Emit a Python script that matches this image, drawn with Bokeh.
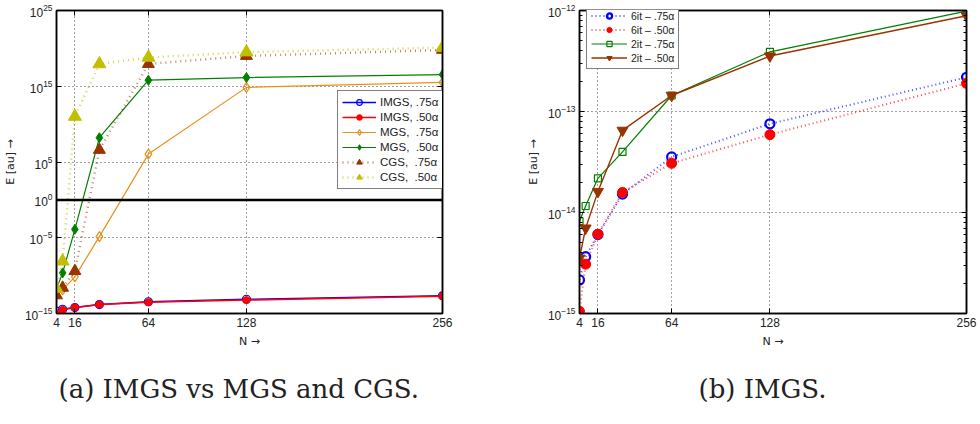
from bokeh.plotting import figure
from bokeh.models import (Range1d, FixedTicker, LogAxis, LinearAxis, Span, Title,
                          LogTickFormatter, CustomJSTickFormatter)
from bokeh.layouts import row
from bokeh.embed import file_html
from bokeh.resources import INLINE

# Problem sizes
N = [4, 8, 16, 32, 64, 128, 256]
x_ticks = [4, 16, 64, 128, 256]

# Orthogonality error E [au] of the different Gram-Schmidt variants
imgs_75 = [2.15e-15, 3.65e-15, 6.05e-15, 1.52e-14, 3.55e-14, 7.55e-14, 2.18e-13]
imgs_50 = [1.05e-15, 3.08e-15, 6.1e-15, 1.58e-14, 3.07e-14, 5.9e-14, 1.9e-13]
mgs_75 = [3.2e-13, 1.3e-12, 6.9e-11, 1.4e-5, 1.1e6, 7.1e14, 3.2e15]
mgs_50 = [1.8e-12, 2.3e-10, 1.3e-4, 1.6e8, 6.3e15, 1.4e16, 3.5e16]
cgs_75 = [2.5e-13, 2.5e-12, 4.0e-10, 4.0e6, 8.7e17, 1.0e19, 6.3e19]
cgs_50 = [2.0e-12, 7.9e-9, 1.0e11, 8.7e17, 6.3e18, 3.2e19, 1.26e20]

# IMGS with 6 vs 2 iterations
it6_75 = imgs_75
it6_50 = imgs_50
it2_75 = [8.2e-15, 1.16e-14, 2.18e-14, 3.98e-14, 1.44e-13, 3.9e-13, 9.85e-13]
it2_50 = [3.52e-15, 7.0e-15, 1.61e-14, 6.5e-14, 1.44e-13, 3.54e-13, 8.87e-13]

left_y_ticks = [1e-15, 1e-5, 1e0, 1e5, 1e15, 1e25]
right_y_ticks = [1e-15, 1e-14, 1e-13, 1e-12]
right_y_minor = [m * 10.0 ** e for e in (-15, -14, -13) for m in range(2, 10)]

SANS = "Liberation Sans"
SERIF = "DejaVu Serif"

BLUE = "#0000ff"
RED = "#ff0000"
ORANGE = "#e8901c"
GREEN = "#008000"
BROWN = "#993300"
YELLOW = "#c0c000"


def make_fig(min_left, min_right, y_range):
    p = figure(width=490, height=424, x_range=Range1d(4, 256), y_range=y_range,
               y_axis_type="log", output_backend="svg", toolbar_location=None,
               min_border_left=min_left, min_border_right=min_right,
               min_border_top=10, min_border_bottom=108)
    p.background_fill_color = "white"
    p.border_fill_color = "white"
    p.outline_line_color = "black"
    p.outline_line_width = 1.5
    return p


def add_caption(p, caption, shift):
    p.add_layout(Title(text=caption, align="left", text_font=SERIF,
                       text_font_size="26px", text_font_style="normal",
                       text_line_height=1.0, text_color="#222222",
                       standoff=42, offset=shift), "below")


def style_axes(p, yticker):
    xticker = FixedTicker(ticks=x_ticks, minor_ticks=[])
    p.xaxis.ticker = xticker
    p.yaxis.ticker = yticker
    p.yaxis.formatter = LogTickFormatter()
    for ax in p.xaxis + p.yaxis:
        ax.axis_line_color = "black"
        ax.axis_line_width = 1.5
        ax.major_tick_in = 5
        ax.major_tick_out = 0
        ax.minor_tick_in = 3
        ax.minor_tick_out = 0
        ax.major_label_text_font = SANS
        ax.major_label_text_font_size = "12px"
        ax.major_label_text_color = "#222222"
        ax.axis_label_text_font = "DejaVu Sans"
        ax.axis_label_text_font_size = "11px"
        ax.axis_label_text_font_style = "normal"
        ax.axis_label_text_color = "#222222"
        ax.major_label_standoff = 4
        ax.axis_label_standoff = 5
    p.xaxis.axis_label = "N \u2192"
    p.yaxis.axis_label = "E [au] \u2192"
    # tick marks on the opposite sides of the box, without labels
    blank = CustomJSTickFormatter(code="return ''")
    right = LogAxis(ticker=yticker, formatter=blank, major_label_standoff=0,
                    major_tick_in=5, major_tick_out=0, minor_tick_in=3,
                    minor_tick_out=0, axis_line_width=1.5)
    top = LinearAxis(ticker=xticker, formatter=blank, major_label_standoff=0,
                     major_tick_in=5, major_tick_out=0, axis_line_width=1.5)
    p.add_layout(right, "right")
    p.add_layout(top, "above")
    for g in (p.xgrid, p.ygrid):
        g.grid_line_color = "#444444"
        g.grid_line_dash = "1 3"
        g.grid_line_width = 1
    p.xgrid.ticker = xticker
    p.ygrid.ticker = yticker


def style_legend(p, loc, font, row_h, glyph_w):
    lg = p.legend[0]
    lg.location = loc
    lg.border_line_color = "black"
    lg.border_line_width = 1.5
    lg.background_fill_alpha = 1
    lg.label_text_font = SANS
    lg.label_text_font_size = font
    lg.label_text_color = "#222222"
    lg.label_height = row_h
    lg.glyph_height = row_h
    lg.glyph_width = glyph_w
    lg.spacing = 1
    lg.padding = 4
    lg.margin = 0
    lg.label_standoff = 4


# ---------------- (a) IMGS vs MGS and CGS ----------------
p1 = make_fig(56, 48, Range1d(1e-15, 1e25))
style_axes(p1, FixedTicker(ticks=left_y_ticks, minor_ticks=[]))
add_caption(p1, "(a) IMGS vs MGS and CGS.", 2)
p1.add_layout(Span(location=1.0, dimension="width", line_color="black", line_width=2.5))

p1.line(N, imgs_75, line_color=BLUE, line_width=1.5, legend_label="IMGS, .75\u03b1")
p1.scatter(N, imgs_75, marker="circle", size=8, fill_color=None, line_color=BLUE,
           line_width=1.2, legend_label="IMGS, .75\u03b1")
p1.line(N, imgs_50, line_color=RED, line_width=1.5, legend_label="IMGS, .50\u03b1")
p1.scatter(N, imgs_50, marker="circle", size=7, fill_color=RED, line_color=RED,
           legend_label="IMGS, .50\u03b1")
p1.line(N, mgs_75, line_color=ORANGE, line_width=1.2, legend_label="MGS,  .75\u03b1")
p1.scatter(N, mgs_75, marker="diamond", size=10, fill_color=None, line_color=ORANGE,
           line_width=1.2, legend_label="MGS,  .75\u03b1")
p1.line(N, mgs_50, line_color=GREEN, line_width=1.2, legend_label="MGS,  .50\u03b1")
p1.scatter(N, mgs_50, marker="diamond", size=10, fill_color=GREEN, line_color=GREEN,
           legend_label="MGS,  .50\u03b1")
p1.line(N, cgs_75, line_color=BROWN, line_width=2.4, line_dash="1 4", line_alpha=0.6,
        legend_label="CGS,  .75\u03b1")
p1.scatter(N, cgs_75, marker="triangle", size=12, fill_color=BROWN, line_color=BROWN,
           legend_label="CGS,  .75\u03b1")
p1.line(N, cgs_50, line_color=YELLOW, line_width=2.4, line_dash="1 4", line_alpha=0.7,
        legend_label="CGS,  .50\u03b1")
p1.scatter(N, cgs_50, marker="triangle", size=13, fill_color=YELLOW, line_color=YELLOW,
           legend_label="CGS,  .50\u03b1")
style_legend(p1, (281, 124), "11.5px", 14, 34)

# ---------------- (b) IMGS ----------------
p2 = make_fig(89, 14, Range1d(1e-15, 1e-12))
style_axes(p2, FixedTicker(ticks=right_y_ticks, minor_ticks=right_y_minor))
add_caption(p2, "(b) IMGS.", 119)

p2.line(N, it6_75, line_color=BLUE, line_width=2, line_dash="1 3", line_alpha=0.7,
        legend_label="6it \u2013 .75\u03b1")
p2.scatter(N, it6_75, marker="circle", size=9, fill_color=None, line_color=BLUE,
           line_width=2.2, legend_label="6it \u2013 .75\u03b1")
p2.line(N, it6_50, line_color=RED, line_width=2, line_dash="1 3", line_alpha=0.7,
        legend_label="6it \u2013 .50\u03b1")
p2.scatter(N, it6_50, marker="circle", size=10, fill_color=RED, line_color=RED,
           legend_label="6it \u2013 .50\u03b1")
p2.line(N, it2_75, line_color=GREEN, line_width=1.2, legend_label="2it \u2013 .75\u03b1")
p2.scatter(N, it2_75, marker="square", size=7, fill_color=None, line_color=GREEN,
           line_width=1.2, legend_label="2it \u2013 .75\u03b1")
p2.line(N, it2_50, line_color=BROWN, line_width=1.4, legend_label="2it \u2013 .50\u03b1")
p2.scatter(N, it2_50, marker="inverted_triangle", size=11, fill_color=BROWN,
           line_color=BROWN, legend_label="2it \u2013 .50\u03b1")
style_legend(p2, (7, 244), "10.5px", 13, 36)

layout = row(p1, p2)
open("out.html", "w").write(file_html(layout, INLINE))
